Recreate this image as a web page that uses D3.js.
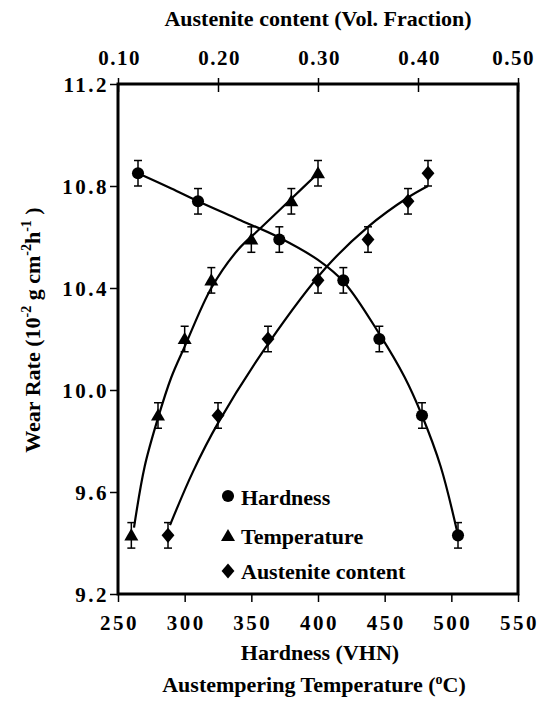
<!DOCTYPE html>
<html>
<head>
<meta charset="utf-8">
<script src="https://cdn.jsdelivr.net/npm/d3@7"></script>
<style>
  html, body { margin: 0; padding: 0; background: #fff; }
</style>
</head>
<body>
<svg id="chart" width="541" height="702"></svg>
<script>
// ---- Data ----
const wearRate = [10.85, 10.74, 10.59, 10.43, 10.20, 9.90, 9.43];
const hardness = [265, 310, 371, 419, 446, 478, 505];
const temperature = [400, 380, 350, 320, 300, 280, 260];
const austenite = [0.41, 0.39, 0.35, 0.30, 0.25, 0.20, 0.15];
const errorBar = 0.05;

// fitted curves
const hardnessFitX = [265, 290, 310, 340, 370, 400, 420, 446, 465, 478, 492, 505];
const hardnessFitY = [10.85, 10.79, 10.74, 10.67, 10.60, 10.51, 10.42, 10.22, 10.05, 9.90, 9.70, 9.43];
const temperatureFitX = [262, 270, 280, 290, 300, 320, 340, 357, 380, 400];
const temperatureFitY = [9.46, 9.70, 9.89, 10.05, 10.17, 10.40, 10.55, 10.635, 10.75, 10.85];
const austeniteFitX = [0.152, 0.175, 0.20, 0.25, 0.308, 0.35, 0.39, 0.41];
const austeniteFitY = [9.47, 9.68, 9.87, 10.18, 10.48, 10.64, 10.755, 10.80];

const bottomTicks = [250, 300, 350, 400, 450, 500, 550];
const topTicks = [0.10, 0.20, 0.30, 0.40, 0.50];
const leftTicks = [9.2, 9.6, 10.0, 10.4, 10.8, 11.2];
const legendLabels = ["Hardness", "Temperature", "Austenite content"];

// ---- Layout ----
const FONT = '"Liberation Serif", "Times New Roman", Times, serif';
const svg = d3.select("#chart");
const L = 118, R = 518, T = 84, B = 594;

const x = d3.scaleLinear().domain([250, 550]).range([L, R]);
const xTop = d3.scaleLinear().domain([0.10, 0.50]).range([L, R]);
const y = d3.scaleLinear().domain([9.2, 11.2]).range([B, T]);

function styleText(sel, size) {
  return sel.style("font-family", FONT).style("font-weight", "bold")
    .style("font-size", size + "px").attr("fill", "#000");
}

// axes
const gB = svg.append("g").attr("transform", `translate(0,${B})`)
  .call(d3.axisBottom(x).tickValues(bottomTicks).tickSize(8).tickPadding(13).tickFormat(d3.format("d")));
const gT = svg.append("g").attr("transform", `translate(0,${T})`)
  .call(d3.axisTop(xTop).tickValues(topTicks).tickSize(6).tickPadding(13).tickFormat(d3.format(".2f")));
gT.selectAll(".tick line").attr("y1", 8);
const gL = svg.append("g").attr("transform", `translate(${L},0)`)
  .call(d3.axisLeft(y).tickValues(leftTicks).tickSize(8).tickPadding(3).tickFormat(d3.format(".1f")));

[gB, gT, gL].forEach(g => {
  g.select(".domain").remove();
  g.selectAll(".tick line").attr("stroke", "#000").attr("stroke-width", 1.5);
  styleText(g.selectAll(".tick text"), 21).style("letter-spacing", "2.5px");
});
gL.selectAll(".tick text").attr("dy", "0.36em").attr("dx", "2px");
gT.selectAll(".tick text").style("letter-spacing", "1.5px").attr("dx", "1px");
gT.selectAll(".tick text").filter(d => d === 0.50).attr("dx", "-5px");
gB.selectAll(".tick text").attr("dx", "1px");

// frame
svg.append("rect").attr("x", L).attr("y", T).attr("width", R - L).attr("height", B - T)
  .attr("fill", "none").attr("stroke", "#000").attr("stroke-width", 3);

// curves
const line = d3.line().curve(d3.curveCatmullRom.alpha(0.5));
function drawCurve(xs, ys, sx) {
  svg.append("path")
    .attr("d", line(xs.map((v, i) => [sx(v), y(ys[i])])))
    .attr("fill", "none").attr("stroke", "#000").attr("stroke-width", 2.2);
}
drawCurve(hardnessFitX, hardnessFitY, x);
drawCurve(temperatureFitX, temperatureFitY, x);
drawCurve(austeniteFitX, austeniteFitY, xTop);

// error bars
function drawErrors(xs, sx) {
  xs.forEach((v, i) => {
    const cx = sx(v), y1 = y(wearRate[i] + errorBar), y2 = y(wearRate[i] - errorBar);
    const g = svg.append("g").attr("stroke", "#000").attr("stroke-width", 1.5);
    g.append("line").attr("x1", cx).attr("x2", cx).attr("y1", y1).attr("y2", y2);
    g.append("line").attr("x1", cx - 4).attr("x2", cx + 4).attr("y1", y1).attr("y2", y1);
    g.append("line").attr("x1", cx - 4).attr("x2", cx + 4).attr("y1", y2).attr("y2", y2);
  });
}
drawErrors(hardness, x);
drawErrors(temperature, x);
drawErrors(austenite, xTop);

// markers
const wideDiamond = {
  draw(ctx, size) {
    const h = Math.sqrt(size) * 0.82, w = h * 0.85;
    ctx.moveTo(0, -h); ctx.lineTo(w, 0); ctx.lineTo(0, h); ctx.lineTo(-w, 0); ctx.closePath();
  }
};
const symCircle = d3.symbol().type(d3.symbolCircle).size(115);
const symTri = d3.symbol().type(d3.symbolTriangle).size(85);
const symDiamond = d3.symbol().type(wideDiamond).size(85);
function drawMarkers(xs, sx, sym, dy) {
  xs.forEach((v, i) => {
    svg.append("path").attr("d", sym())
      .attr("transform", `translate(${sx(v)},${y(wearRate[i]) + (dy || 0)})`)
      .attr("fill", "#000");
  });
}
drawMarkers(hardness, x, symCircle);
drawMarkers(temperature, x, symTri, 1);
drawMarkers(austenite, xTop, symDiamond);

// legend
const legendSyms = [symCircle, symTri, symDiamond];
const legSymY = [496, 537, 571];
const legTextY = [505, 544, 579];
legendLabels.forEach((lab, i) => {
  svg.append("path").attr("d", legendSyms[i]())
    .attr("transform", `translate(228,${legSymY[i]})`).attr("fill", "#000");
  styleText(svg.append("text").attr("x", 241).attr("y", legTextY[i]), 22).text(lab);
});

// titles
styleText(svg.append("text").attr("x", 318).attr("y", 26).attr("text-anchor", "middle"), 22)
  .text("Austenite content (Vol. Fraction)");
styleText(svg.append("text").attr("x", 320).attr("y", 660).attr("text-anchor", "middle"), 22)
  .text("Hardness (VHN)");
const t2 = styleText(svg.append("text").attr("x", 314).attr("y", 692).attr("text-anchor", "middle"), 22);
t2.append("tspan").text("Austempering Temperature (");
t2.append("tspan").style("font-size", "14px").attr("dy", -8).text("o");
t2.append("tspan").attr("dy", 8).text("C)");

const yl = styleText(svg.append("text").attr("transform", "translate(40,330) rotate(-90)")
  .attr("text-anchor", "middle"), 22);
yl.append("tspan").text("Wear Rate (10");
yl.append("tspan").style("font-size", "14px").attr("dy", -9).text("-2");
yl.append("tspan").attr("dy", 9).text(" g cm");
yl.append("tspan").style("font-size", "14px").attr("dy", -9).text("-2");
yl.append("tspan").attr("dy", 9).text("h");
yl.append("tspan").style("font-size", "14px").attr("dy", -9).text("-1");
yl.append("tspan").attr("dy", 9).text(" )");
</script>
</body>
</html>
